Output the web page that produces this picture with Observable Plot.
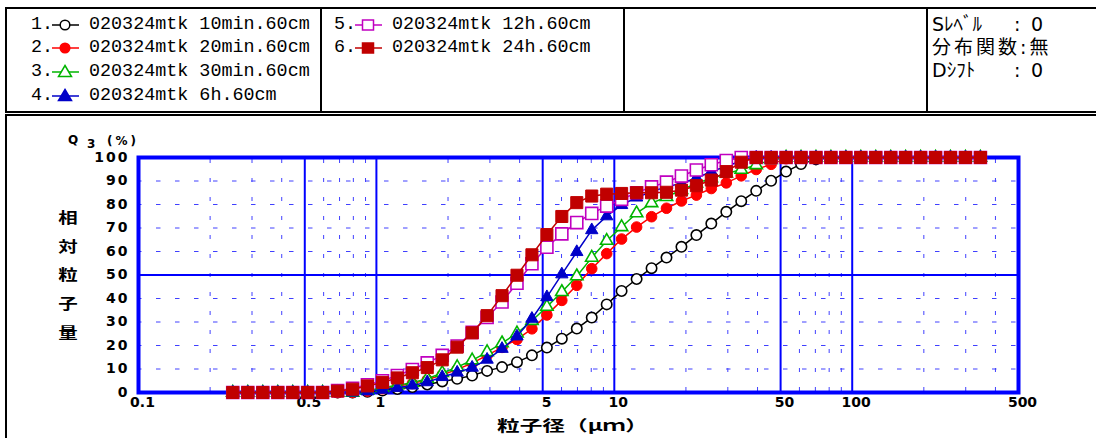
<!DOCTYPE html>
<html><head><meta charset="utf-8">
<script src="https://cdn.jsdelivr.net/npm/d3@7"></script>
<script src="https://cdn.jsdelivr.net/npm/@observablehq/plot@0.6"></script>
<style>
html,body{margin:0;padding:0;background:#fff;}
#wrap{position:relative;width:1096px;height:438px;overflow:hidden;background:#fff;}
.box{position:absolute;border:2px solid #000;box-sizing:border-box;}
.vline{position:absolute;width:2px;background:#000;}
.lt{position:absolute;font-family:"Liberation Mono",monospace;font-size:18.4px;line-height:20px;white-space:pre;color:#000;}
.lm{position:absolute;display:block;}
.inf{position:absolute;font-family:"DejaVu Sans","Noto Sans CJK JP",sans-serif;font-size:19px;line-height:22px;white-space:pre;color:#000;}
#chart{position:absolute;left:0;top:116px;}
</style></head><body>
<div id="wrap">
  <div id="chart"></div>
  <div class="box" style="left:5px;top:7px;width:1200px;height:106px;"></div>
  <div class="vline" style="left:320px;top:7px;height:106px;"></div>
  <div class="vline" style="left:623px;top:7px;height:106px;"></div>
  <div class="vline" style="left:926px;top:7px;height:106px;"></div>
  <div class="box" style="left:5px;top:114px;width:1200px;height:400px;"></div>
  <div id="legend"></div>
  <div id="info"></div>
</div>
<script>
// particle size classes (µm)
const sizes = [0.249,0.288,0.333,0.385,0.445,0.514,0.594,0.687,0.794,0.917,1.060,1.225,1.416,1.636,1.891,2.185,2.526,2.919,3.373,3.898,4.505,5.207,6.017,6.954,8.038,9.289,10.73,12.41,14.34,16.57,19.15,22.13,25.57,29.56,34.16,39.48,45.62,52.72,60.93,70.41,81.37,94.04,108.7,125.6,145.2,167.7,193.9,224.1,258.9,299.3,345.9];
const seriesNames = ["020324mtk 10min.60cm","020324mtk 20min.60cm","020324mtk 30min.60cm","020324mtk 6h.60cm","020324mtk 12h.60cm","020324mtk 24h.60cm"];
// cumulative Q3 (%)
const s1 = [0,0,0,0,0,0,0,0,0,0.3,0.8,1.5,2.3,3.4,4.7,5.8,7.2,9.2,10.8,12.9,15.8,19.1,22.9,27.2,31.9,37.5,43.2,48.3,52.9,57.4,62.0,67.0,71.9,76.9,81.4,85.8,90.1,94.0,97.2,99.2,100,100,100,100,100,100,100,100,100,100,100];
const s2 = [0,0,0,0,0,0,0,0,0,0.6,1.6,2.7,3.8,5.4,7.5,9.8,12.5,15.8,19.2,22.6,27.1,33.0,39.2,45.6,52.7,59.1,65.3,70.4,74.8,78.4,81.5,84.0,86.8,89.2,92.2,94.9,97.1,99.5,100,100,100,100,100,100,100,100,100,100,100,100,100];
const s3 = [0,0,0,0,0,0,0,0,0,0.8,2.0,3.1,4.2,5.9,8.3,10.8,13.7,17.2,21.0,25.2,30.5,36.5,42.8,49.5,57.4,64.6,70.4,76.3,80.6,83.2,86.2,89.0,91.2,93.2,94.8,96.8,99.0,100,100,100,100,100,100,100,100,100,100,100,100,100,100];
const s4 = [0,0,0,0,0,0,0,0,0,0.5,1.2,2.0,3.0,4.4,6.6,8.5,10.6,14.0,18.6,23.9,31.4,40.6,50.3,59.8,69.1,75.0,79.8,83.0,85.5,87.5,89.0,91.3,94.0,96.3,98.5,100,100,100,100,100,100,100,100,100,100,100,100,100,100,100,100];
const s5 = [0,0,0,0,0,0,0,0.8,1.8,3.3,5.0,7.2,9.8,12.6,15.8,19.8,25.6,31.9,38.5,46.5,54.8,61.8,67.5,72.3,76.2,79.3,82.2,85.0,87.5,89.5,92.1,94.7,96.9,98.7,100,100,100,100,100,100,100,100,100,100,100,100,100,100,100,100,100];
const s6 = [0,0,0,0,0,0,0,0.6,1.4,2.8,4.3,6.2,8.4,10.6,13.9,19.3,25.4,32.7,41.2,49.9,58.6,67.2,74.9,80.8,83.6,84.4,84.7,85.0,85.0,85.2,86.1,88.0,90.4,94.0,98.0,100,100,100,100,100,100,100,100,100,100,100,100,100,100,100,100];
const xTicks = [0.1,0.5,1,5,10,50,100,500];
const xTickLabels = ["0.1","0.5","1","5","10","50","100","500"];
const yTicks = [0,10,20,30,40,50,60,70,80,90,100];
const xMajor = [0.5,1,5,10,50,100];
const xMinor = [0.2,0.3,0.4,0.6,0.7,0.8,0.9,2,3,4,6,7,8,9,20,30,40,60,70,80,90,200,300,400];
const yMinor = [10,20,30,40,60,70,80,90];
const infoLabels = ["Sﾚﾍﾞﾙ","分布関数:無","Dｼﾌﾄ"];
const infoValues = ["0","","0"];

const colors = ["#000000","#FF0000","#00B400","#0000C8","#C000C0","#C00000"];
const symbols = ["circle","circle","triangle","triangle","square","square"];
const filled = [false,true,false,true,false,true];
const radii = [5.2,5.3,4.6,4.6,6.8,6.8];

const allSeries = [s1,s2,s3,s4,s5,s6];
const rows = [];
allSeries.forEach((vals,k)=>vals.forEach((v,i)=>rows.push({size:sizes[i], q:v, k})));

const seriesMarks = [];
allSeries.forEach((vals,k)=>{
  const d = rows.filter(r=>r.k===k);
  seriesMarks.push(Plot.line(d,{x:"size",y:"q",stroke:colors[k],strokeWidth:1.5}));
  seriesMarks.push(Plot.dot(d,{x:"size",y:"q",symbol:symbols[k],r:radii[k],
    fill: filled[k]?colors[k]:"white", stroke:colors[k], strokeWidth: filled[k]?1:1.6}));
});

const chart = Plot.plot({
  width:1096, height:322,
  marginLeft:138, marginRight:78, marginTop:41, marginBottom:46,
  style:{background:"transparent",fontFamily:"'DejaVu Sans'",fontSize:"14px",fontWeight:"bold",color:"#000",overflow:"visible"},
  x:{type:"log",domain:[0.1,500],axis:null},
  y:{domain:[0,100]},
  marks:[
    Plot.ruleY(yMinor,{stroke:"#4040FF",strokeWidth:1,strokeDasharray:"4.5,14.5",strokeDashoffset:1}),
    Plot.ruleX(xMinor,{stroke:"#4040FF",strokeWidth:1,strokeDasharray:"4,15",strokeDashoffset:-2}),
    Plot.ruleX(xMajor,{stroke:"#0000FF",strokeWidth:2}),
    Plot.ruleY([50],{stroke:"#0000FF",strokeWidth:2}),
    Plot.frame({stroke:"#0000FF",strokeWidth:4}),
    Plot.text(xTicks,{x:d=>d,text:(d,i)=>xTickLabels[i],frameAnchor:"bottom",dy:14,dx:4,fontSize:14,fontWeight:"bold",fill:"#000",ariaLabel:"xticks"}),
    Plot.axisY({ticks:yTicks,tickSize:0,tickPadding:9,label:null,fontSize:14}),
    ...seriesMarks
  ]
});
document.getElementById("chart").appendChild(chart);

// letter spacing on tick labels
chart.querySelectorAll('[aria-label="xticks"] text, [aria-label="y-axis tick label"] text').forEach(t=>t.setAttribute("letter-spacing","2"));

// axis titles
const svg = d3.select(chart);
const tg = svg.append("g").attr("font-family","'DejaVu Sans'").attr("font-weight","bold").attr("fill","#000").attr("text-anchor","start");
tg.append("text").attr("x",68).attr("y",28).attr("font-size",12).text("Q");
tg.append("text").attr("x",87).attr("y",32).attr("font-size",12).text("3");
tg.append("text").attr("x",107).attr("y",29).attr("font-size",12).attr("letter-spacing",3).text("(%)");
const yLab = "相対粒子量";
const yc = [100.7,130,158,186.7,215.7];
const cg = svg.append("g").attr("font-family","'Noto Sans CJK JP'").attr("font-size",15).attr("fill","#000").attr("text-anchor","middle");
[...yLab].forEach((c,i)=>cg.append("text").attr("transform",`translate(68,${yc[i]}) scale(1.3,0.95)`).attr("dominant-baseline","central").text(c));
cg.append("text").attr("x",497).attr("y",308).attr("text-anchor","start").attr("dominant-baseline","central")
  .attr("textLength",151).attr("lengthAdjust","spacingAndGlyphs").text("粒子径（μｍ）");

// legend
const legendPos = [[31,15],[31,38],[31,62],[31,86],[334,15],[334,38]];
const leg = document.getElementById("legend");
seriesNames.forEach((name,k)=>{
  const [lx,ly] = legendPos[k];
  const c = colors[k], f = filled[k]?c:"white";
  let m;
  if (symbols[k]==="circle") m = `<circle cx="14" cy="10" r="4.8" fill="${f}" stroke="${c}" stroke-width="1.5"/>`;
  else if (symbols[k]==="triangle") m = `<path d="M14,3.5 L20.5,14.5 L7.5,14.5 Z" fill="${f}" stroke="${c}" stroke-width="1.5"/>`;
  else m = `<rect x="8.5" y="5" width="11" height="10" fill="${f}" stroke="${c}" stroke-width="1.5"/>`;
  const num = document.createElement("div"); num.className="lt"; num.style.left=lx+"px"; num.style.top=ly+"px"; num.textContent=(k+1)+".";
  const sym = document.createElement("div"); sym.className="lm"; sym.style.left=(lx+20)+"px"; sym.style.top=ly+"px";
  sym.innerHTML = `<svg width="30" height="20"><line x1="1" y1="10" x2="28" y2="10" stroke="${c}" stroke-width="1.5"/>${m}</svg>`;
  const txt = document.createElement("div"); txt.className="lt"; txt.style.left=(lx+58)+"px"; txt.style.top=ly+"px"; txt.textContent=name;
  leg.append(num,sym,txt);
});
const info = document.getElementById("info");
infoLabels.forEach((lab,i)=>{
  const y = 13 + i*23;
  const a = document.createElement("div"); a.className="inf"; a.style.left="932px"; a.style.top=y+"px"; a.textContent=lab;
  if (infoValues[i]==="") a.style.letterSpacing="3px";
  info.appendChild(a);
  if (infoValues[i]!=="") {
    const b = document.createElement("div"); b.className="inf"; b.style.left="1014px"; b.style.top=y+"px"; b.textContent=":"; info.appendChild(b);
    const v = document.createElement("div"); v.className="inf"; v.style.left="1031px"; v.style.top=y+"px"; v.textContent=infoValues[i]; info.appendChild(v);
  }
});
</script>
</body></html>
